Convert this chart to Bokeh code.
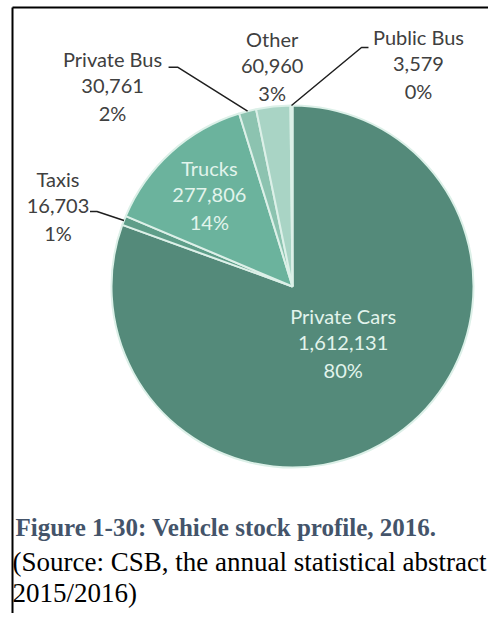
import math
from bokeh.plotting import figure
from bokeh.models import Range1d, ColumnDataSource
from bokeh.core.properties import value
from bokeh.embed import file_html
from bokeh.resources import INLINE

# ---- data ----
categories = ["Private Cars", "Taxis", "Trucks", "Private Bus", "Other", "Public Bus"]
counts = [1612131, 16703, 277806, 30761, 60960, 3579]
count_labels = ["1,612,131", "16,703", "277,806", "30,761", "60,960", "3,579"]
pct_labels = ["80%", "1%", "14%", "2%", "3%", "0%"]
colors = ["#548a7a", "#5e9e89", "#6bb39d", "#8cc3b0", "#a9d4c5", "#c4e3d7"]

caption_title = "Figure 1-30: Vehicle stock profile, 2016."
caption_source = ["(Source: CSB, the annual statistical abstract", "2015/2016)"]

# ---- layout (pixel space of the screenshot) ----
W, H = 488, 613
CX, CY, R = 292, 286, 181

def Y(py):
    return H - py

p = figure(width=W, height=H, output_backend="svg", toolbar_location=None,
           x_range=Range1d(0, W), y_range=Range1d(0, H),
           x_axis_type=None, y_axis_type=None, min_border=0,
           background_fill_color="white", border_fill_color="white")
p.outline_line_color = None
p.grid.visible = False

total = float(sum(counts))
cum = [0.0]
for c in counts:
    cum.append(cum[-1] + c / total)
start_angles = [math.pi / 2 - 2 * math.pi * cum[i] for i in range(len(counts))]
end_angles = [math.pi / 2 - 2 * math.pi * cum[i + 1] for i in range(len(counts))]
mid_frac = [(cum[i] + cum[i + 1]) / 2 for i in range(len(counts))]

src = ColumnDataSource(dict(cat=categories, start=start_angles, end=end_angles, color=colors))
p.wedge(x=CX, y=Y(CY), radius=R, start_angle="start", end_angle="end",
        direction="clock", fill_color="color", line_color="#dcf0e8",
        line_width=2, source=src)

def edge_point(frac, rr=R):
    a = 2 * math.pi * frac
    return CX + rr * math.sin(a), CY - rr * math.cos(a)

font = value("Lato")
FS = "20px"
LINE = 27

# inside -> (radius fraction, dx, dy); outside -> (offset of middle line from edge point, leader path)
inside = {"Private Cars": (0.42, 7, -6), "Trucks": (0.685, 0, 0)}
outside = {
    "Taxis": ((-66, -14), [(-34, -9), (-27, -9), (0, 0)]),
    "Private Bus": ((-135, -25), [(-79, -44), (-70, -44), (0, 0)]),
    "Other": ((-1, -41), None),
    "Public Bus": ((127, -42), [(77, -58), (70, -58), (0, 0)]),
}

for i, cat in enumerate(categories):
    lines = [cat, count_labels[i], pct_labels[i]]
    if cat in inside:
        fr, dx, dy = inside[cat]
        ex, ey = edge_point(mid_frac[i], R * fr)
        mx, my = ex + dx, ey + dy
        tc = "#e2f4ec"
    else:
        (ox, oy), leader = outside[cat]
        ex, ey = edge_point(mid_frac[i])
        mx, my = ex + ox, ey + oy
        tc = "#404040"
        if leader:
            xs = [ex + a for a, b in leader]
            ys = [Y(ey + b) for a, b in leader]
            p.line(xs, ys, line_color="#1f1f1f", line_width=1.5)
    for k, t in enumerate(lines):
        p.text(x=[mx], y=[Y(my + (k - 1) * LINE)], text=[t], text_font=font,
               text_font_size=FS, text_color=tc, text_align="center",
               text_baseline="middle")

# caption
p.text(x=[15], y=[Y(527)], text=[caption_title], text_font=value("Liberation Serif"),
       text_font_size="25px", text_font_style="bold", text_color="#44546a",
       text_baseline="middle")
for k, t in enumerate(caption_source):
    p.text(x=[12], y=[Y(561 + k * 31)], text=[t], text_font=value("Liberation Serif"),
           text_font_size="27px", text_color="#000000", text_baseline="middle")

# frame lines (top and left rules of the reference box)
p.line([12, W], [Y(7), Y(7)], line_color="black", line_width=2)
p.line([12, 12], [Y(7), Y(H)], line_color="black", line_width=2)

open("out.html", "w").write(file_html(p, INLINE))
